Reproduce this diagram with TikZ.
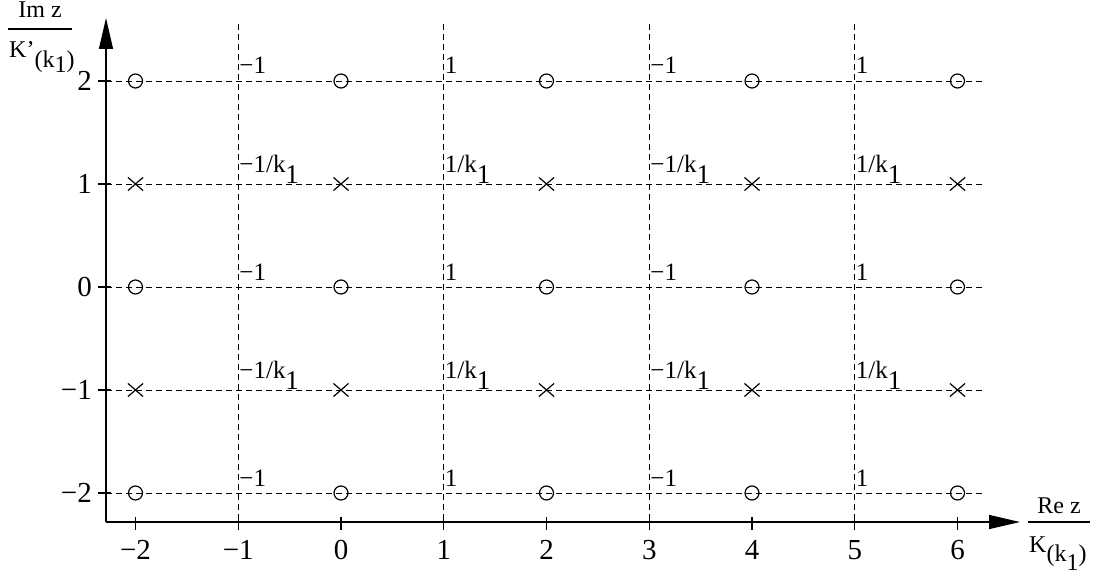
\documentclass[tikz,border=0pt]{standalone}
\usepackage{fontspec}
\setmainfont{Liberation Serif}
\usetikzlibrary{arrows.meta,shapes.misc}
\begin{document}
\begin{tikzpicture}[x=1pt,y=-1pt,
  grid/.style={line width=0.9pt,dash pattern=on 6pt off 4pt},
  axis/.style={line width=1.3pt},
  axarrow/.style={-{Triangle[length=31pt,width=14pt]}},
  zero/.style={circle,draw,line width=1.2pt,minimum size=14pt,inner sep=0pt},
  pole/.style={cross out,draw,line width=1.2pt,minimum width=14pt,minimum height=12pt,inner sep=0pt},
  ticklab/.style={font=\fontsize{29}{30}\selectfont,inner sep=0pt},
  gridlab/.style={font=\fontsize{25}{26}\selectfont,inner sep=0pt,anchor=base west},
  axlab/.style={font=\fontsize{24}{26}\selectfont,inner sep=0pt}]
\useasboundingbox (0,0) rectangle (1094,575);
% grid
\foreach \v in {-2,...,2}{
  \pgfmathsetmacro{\yy}{287-103*\v}
  \coordinate (hl\v) at (106,\yy);
  \coordinate (hr\v) at (985,\yy);
  \draw[grid] (hl\v) -- (hr\v);
}
\foreach \u in {-1,1,3,5}{
  \pgfmathsetmacro{\xx}{341+102.75*\u}
  \coordinate (vt\u) at (\xx,24);
  \coordinate (vb\u) at (\xx,522);
  \draw[grid] (vt\u) -- (vb\u);
}
% axes
\coordinate (O) at (106,522);
\coordinate (xend) at (1020,522);
\coordinate (yend) at (106,18);
\draw[axis,axarrow] (O) -- (xend);
\draw[axis,axarrow] (O) -- (yend);
% ticks
\foreach \u in {-2,...,6}{
  \pgfmathsetmacro{\xx}{341+102.75*\u}
  \coordinate (tx\u a) at (\xx,517);
  \coordinate (tx\u b) at (\xx,530);
  \draw[axis] (tx\u a) -- (tx\u b);
  \node[ticklab,anchor=north] (xl\u) at (\xx,540) {\ifnum\u<0 −\the\numexpr-\u\relax\else\u\fi};
}
\foreach \v in {-2,...,2}{
  \pgfmathsetmacro{\yy}{287-103*\v}
  \coordinate (ty\v a) at (98,\yy);
  \coordinate (ty\v b) at (111,\yy);
  \draw[axis] (ty\v a) -- (ty\v b);
  \node[ticklab,anchor=east] (yl\v) at (92,\yy) {\ifnum\v<0 −\the\numexpr-\v\relax\else\v\fi};
}
% zeros and poles
\foreach \u in {-2,0,2,4,6}{
  \pgfmathsetmacro{\xx}{341+102.75*\u}
  \foreach \v in {-2,0,2}{
    \pgfmathsetmacro{\yy}{287-103*\v}
    \node[zero] (z\u\v) at (\xx,\yy) {};
  }
  \foreach \v in {-1,1}{
    \pgfmathsetmacro{\yy}{287-103*\v}
    \node[pole] (p\u\v) at (\xx,\yy) {};
  }
}
% grid labels
\foreach \u/\s in {-1/−,1/,3/−,5/}{
  \pgfmathsetmacro{\xx}{341+102.75*\u+1}
  \foreach \v in {-2,0,2}{
    \pgfmathsetmacro{\yy}{287-103*\v-7}
    \node[gridlab] (e\u\v) at (\xx,\yy) {\s1};
  }
  \foreach \v in {-1,1}{
    \pgfmathsetmacro{\yy}{287-103*\v-12}
    \node[gridlab] (o\u\v) at (\xx,\yy) {\s1/k\raisebox{-11pt}{\fontsize{27}{28}\selectfont 1}};
  }
}
% axis labels
\node[axlab,anchor=base] (imz) at (40,18) {Im z};
\coordinate (fl1) at (8,29);
\coordinate (fr1) at (72,29);
\draw[line width=1.1pt] (fl1) -- (fr1);
\node[axlab,anchor=base west] (kp) at (9,58) {K’\raisebox{-10pt}{(k\raisebox{-5pt}{1})}};
\node[axlab,anchor=base] (rez) at (1059,513) {Re z};
\coordinate (fl2) at (1028,522);
\coordinate (fr2) at (1090,522);
\draw[line width=1.1pt] (fl2) -- (fr2);
\node[axlab,anchor=base west] (kk) at (1029,552) {K\raisebox{-9pt}{(k\raisebox{-9pt}{1})}};
\end{tikzpicture}
\end{document}
